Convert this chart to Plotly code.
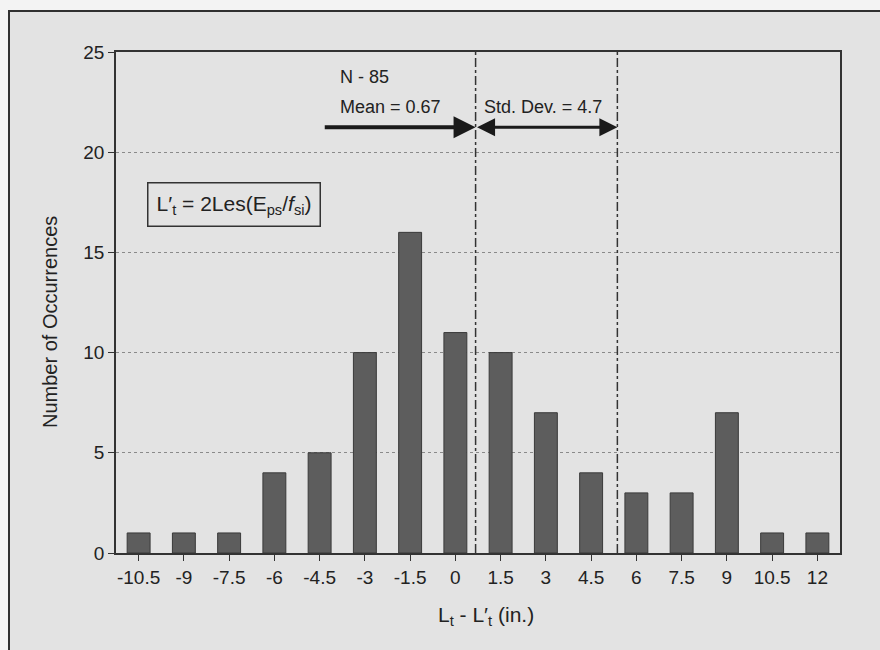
import plotly.graph_objects as go

# ---- data ----
bin_centers = [-10.5, -9, -7.5, -6, -4.5, -3, -1.5, 0, 1.5, 3, 4.5, 6, 7.5, 9, 10.5, 12]
occurrences = [1, 1, 1, 4, 5, 10, 16, 11, 10, 7, 4, 3, 3, 7, 1, 1]
tick_labels = ["-10.5", "-9", "-7.5", "-6", "-4.5", "-3", "-1.5", "0",
               "1.5", "3", "4.5", "6", "7.5", "9", "10.5", "12"]
y_ticks = [0, 5, 10, 15, 20, 25]
n_obs = 85
mean_val = 0.67
std_val = 4.7

FONT = "Liberation Sans, Arial, Helvetica, sans-serif"
INK = "#222222"
BG = "#e3e3e3"

# pixel geometry of the plot area
L, R, T, B = 116, 840, 52, 553
W, H = 880, 650


def px(xp):
    return (xp - L) / (R - L)


def py(yp):
    return (B - yp) / (B - T)


fig = go.Figure()
fig.add_trace(go.Bar(
    x=bin_centers, y=occurrences, width=0.76,
    marker=dict(color="#5d5d5d", line=dict(color="#3a3a3a", width=1)),
    showlegend=False, hoverinfo="x+y",
))

shapes = [
    # outer frame of the scanned figure
    dict(type="rect", xref="paper", yref="paper", layer="below",
         x0=px(9), x1=px(895), y0=py(670), y1=py(11),
         line=dict(color="#303030", width=2), fillcolor=BG),
    # mean and mean+std vertical dash-dot lines
    dict(type="line", xref="x", yref="paper", x0=mean_val, x1=mean_val, y0=0, y1=1,
         line=dict(color="#333333", width=1.5, dash="dashdot")),
    dict(type="line", xref="x", yref="paper", x0=mean_val + std_val, x1=mean_val + std_val,
         y0=0, y1=1, line=dict(color="#333333", width=1.5, dash="dashdot")),
]

arrow_y = 21.25
annotations = [
    # mean arrow
    dict(x=mean_val, y=arrow_y, ax=mean_val - 5.05, ay=arrow_y, xref="x", yref="y",
         axref="x", ayref="y", text="", showarrow=True, arrowhead=2, arrowsize=1.1,
         arrowwidth=4, arrowcolor="#1a1a1a", standoff=0, startstandoff=0),
    # std dev double arrow
    dict(x=mean_val + std_val, y=arrow_y, ax=mean_val, ay=arrow_y, xref="x", yref="y",
         axref="x", ayref="y", text="", showarrow=True, arrowhead=2, startarrowhead=2,
         arrowside="end+start", arrowsize=1.2, startarrowsize=1.2,
         arrowwidth=3, arrowcolor="#1a1a1a", standoff=0, startstandoff=0),
    dict(x=px(338), y=py(77), xref="paper", yref="paper", xanchor="left", yanchor="middle",
         text=f"N - {n_obs}", showarrow=False, font=dict(family=FONT, size=18, color=INK)),
    dict(x=px(338), y=py(107), xref="paper", yref="paper", xanchor="left", yanchor="middle",
         text=f"Mean = {mean_val}", showarrow=False, font=dict(family=FONT, size=18, color=INK)),
    dict(x=px(482), y=py(107), xref="paper", yref="paper", xanchor="left", yanchor="middle",
         text=f"Std. Dev. = {std_val}", showarrow=False, font=dict(family=FONT, size=18, color=INK)),
    dict(x=px(233.5), y=py(204), xref="paper", yref="paper", xanchor="center", yanchor="middle",
         text="L′<sub>t</sub> = 2Les(E<sub>ps</sub>/<i>f</i><sub>si</sub>)", showarrow=False,
         font=dict(family=FONT, size=21, color=INK), bordercolor="#333333", borderwidth=1.5,
         borderpad=8, bgcolor=BG),
    # axis titles
    dict(x=px(50), y=py(322), xref="paper", yref="paper", xanchor="center", yanchor="middle",
         text="Number of Occurrences", textangle=-90, showarrow=False,
         font=dict(family=FONT, size=20, color=INK)),
    dict(x=px(486), y=py(616), xref="paper", yref="paper", xanchor="center", yanchor="middle",
         text="L<sub>t</sub> - L′<sub>t</sub> (in.)", showarrow=False,
         font=dict(family=FONT, size=21, color=INK)),
]

fig.update_layout(
    width=W, height=H,
    margin=dict(l=L, r=W - R, t=T, b=H - B),
    paper_bgcolor="#f3f3f3", plot_bgcolor=BG,
    font=dict(family=FONT, size=19, color=INK),
    shapes=shapes, annotations=annotations,
    bargap=0.5,
    xaxis=dict(range=[-11.25, 12.75], tickvals=bin_centers, ticktext=tick_labels,
               showgrid=False, zeroline=False, showline=True, linecolor="#333333",
               linewidth=1.5, mirror=True, ticks="outside", ticklen=6, tickcolor="#333333",
               tickfont=dict(size=19)),
    yaxis=dict(range=[0, 25], tickvals=y_ticks, showgrid=True, gridcolor="#8a8a8a",
               griddash="dot", gridwidth=1, zeroline=False, showline=True,
               linecolor="#333333", linewidth=1.5, mirror=True, ticks="outside",
               ticklen=6, tickcolor="#333333", tickfont=dict(size=19)),
)

fig.write_html("out.html")
